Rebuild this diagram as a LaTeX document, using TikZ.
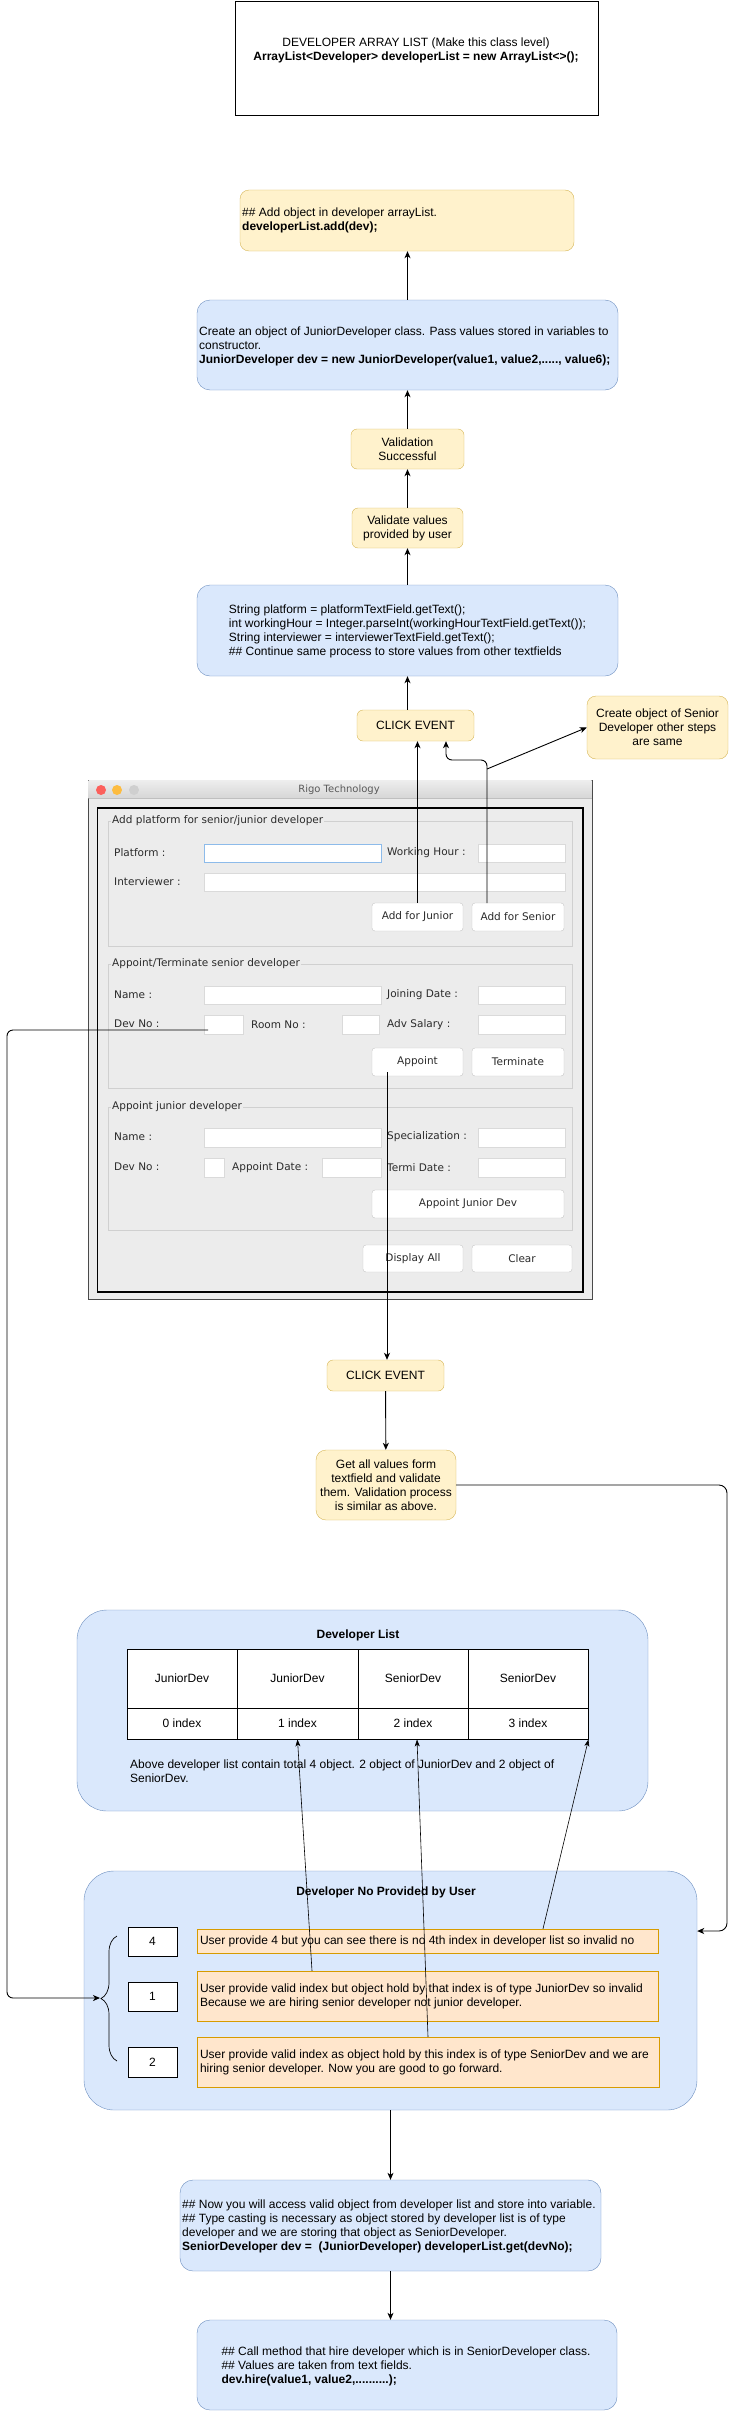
\documentclass[tikz,border=0pt]{standalone}
\usepackage{fontspec}
\setmainfont{Liberation Sans}
\newfontfamily\uifont{DejaVu Sans}
\usetikzlibrary{arrows.meta,decorations.pathreplacing}

\definecolor{ylwfill}{HTML}{FFF2CC}
\definecolor{ylwline}{HTML}{D6B656}
\definecolor{bluefill}{HTML}{DAE8FC}
\definecolor{blueline}{HTML}{6C8EBF}
\definecolor{orgfill}{HTML}{FFE6CC}
\definecolor{orgline}{HTML}{D79B00}
\definecolor{winbg}{HTML}{ECECEC}
\definecolor{winedge}{HTML}{4A4A4A}
\definecolor{panelline}{HTML}{D0D0D0}
\definecolor{fieldline}{HTML}{DADADA}
\definecolor{focusline}{HTML}{8DBBEA}
\definecolor{btnline}{HTML}{C6C6C6}
\definecolor{uitext}{HTML}{2B2B2B}
\definecolor{lightred}{HTML}{FC605C}
\definecolor{lightyellow}{HTML}{FDBC40}
\definecolor{lightgray}{HTML}{CFCFCF}

\tikzset{
  txt/.style={font=\fontsize{12}{14}\selectfont, inner sep=0},
  uitxt/.style={font=\uifont\fontsize{10.5}{12}\selectfont, text=uitext, inner sep=0},
  note/.style={txt, draw=ylwline, fill=ylwfill, rounded corners=6, align=center},
  codebox/.style={draw=blueline, fill=bluefill, rounded corners=13, inner sep=0},
  groupbox/.style={draw=blueline, fill=bluefill, rounded corners=30, inner sep=0},
  hint/.style={draw=orgline, fill=orgfill, inner sep=0},
  numbox/.style={txt, draw, fill=white, line width=0.8pt},
  cell/.style={txt, draw, line width=0.9pt, fill=white},
  field/.style={draw=fieldline, fill=white},
  btn/.style={uitxt, draw=btnline, fill=white, rounded corners=3},
  panel/.style={draw=panelline, fill=winbg},
  legend/.style={uitxt, fill=winbg, inner xsep=1pt},
  arr/.style={-{Stealth[length=7pt,width=6pt,inset=2pt]}, line width=0.9pt},
  thinarr/.style={-{Stealth[length=7pt,width=5pt,inset=2pt]}, line width=0.6pt}
}

\begin{document}
\begin{tikzpicture}[x=1pt, y=-1pt]
\useasboundingbox (0,0) rectangle (736,2411);

% Class level list
\node[txt, draw, line width=0.8pt, minimum width=363, minimum height=114] (cls) at (416.5,58) {};
\node[txt, align=center] (clstxt) at (416,50) {DEVELOPER ARRAY LIST (Make this class level)\\\textbf{ArrayList<Developer> developerList = new ArrayList<>();}};

% Junior flow
\node[note, minimum width=334, minimum height=61, rounded corners=9] (addobj) at (407,220.5) {};
\node[txt, anchor=west, align=left] (addtxt) at (242,220) {\#\# Add object in developer arrayList.\\\textbf{developerList.add(dev);}};
\node[codebox, minimum width=421, minimum height=90] (create) at (407.5,345) {};
\node[txt, anchor=west, align=left] (createtxt) at (199,346) {Create an object of JuniorDeveloper class. Pass values stored in variables to\\constructor.\\\textbf{JuniorDeveloper dev = new JuniorDeveloper(value1, value2,....., value6);}};
\node[note, minimum width=113, minimum height=40] (valok) at (407.5,449) {Validation\\Successful};
\node[note, minimum width=111, minimum height=40] (valuser) at (407.5,528) {Validate values\\provided by user};
\node[codebox, minimum width=421, minimum height=91] (fields) at (407.5,630.5) {};
\node[txt, align=left] (fieldstxt) at (407.5,631) {String platform = platformTextField.getText();\\int workingHour = Integer.parseInt(workingHourTextField.getText());\\String interviewer = interviewerTextField.getText();\\\#\# Continue same process to store values from other textfields};
\node[note, minimum width=117, minimum height=31] (click1) at (415.5,725.5) {CLICK EVENT};
\node[note, minimum width=141, minimum height=63, rounded corners=9] (seniornote) at (657.5,727.5) {Create object of Senior\\Developer other steps\\are same};

\draw[arr] (create.north) -- (create.north |- addobj.south);
\draw[arr] (valok) -- (create);
\draw[arr] (valuser) -- (valok);
\draw[arr] (fields) -- (valuser);
\draw[arr] (click1.north -| fields) -- (fields.south);

% Swing window
\draw[winedge, fill=winbg, line width=0.8pt] (88,780) rectangle (592,1299);
\shade[top color=white!93!black, bottom color=white!84!black] (88.5,780.5) rectangle (591.5,798);
\draw[black!25] (88.5,798) -- (591.5,798);
\fill[lightred] (101,790) circle (5pt);
\fill[lightyellow] (117,790) circle (5pt);
\fill[lightgray] (134,790) circle (5pt);
\node[uitxt, text=black!65, font=\uifont\fontsize{10}{12}\selectfont] (wintitle) at (339,790) {Rigo Technology};
\draw[line width=1.4pt] (97.5,808) rectangle (583,1292);

% First panel
\draw[panel] (108,821) rectangle (572,946);
\node[legend, anchor=west] (p1) at (111,821) {Add platform for senior/junior developer};
\node[uitxt, anchor=west] (lplat) at (114,853) {Platform :};
\draw[draw=focusline, fill=white] (204,844) rectangle (381,862);
\node[uitxt, anchor=west] (lhour) at (387,853) {Working Hour :};
\draw[field] (478,844) rectangle (565,862);
\node[uitxt, anchor=west] (linter) at (114,882) {Interviewer :};
\draw[field] (204,873) rectangle (565,891);
\node[btn, minimum width=91, minimum height=28] (jrbtn) at (417.5,917) {Add for Junior};
\node[btn, minimum width=92, minimum height=28] (srbtn) at (518,917) {Add for Senior};

% Second panel
\draw[panel] (108,964) rectangle (572,1088);
\node[legend, anchor=west] (p2) at (111,964) {Appoint/Terminate senior developer};
\node[uitxt, anchor=west] (lname) at (114,995) {Name :};
\draw[field] (204,986) rectangle (381,1004);
\node[uitxt, anchor=west] (ljoin) at (387,995) {Joining Date :};
\draw[field] (478,986) rectangle (565,1004);
\node[uitxt, anchor=west] (ldev) at (114,1024) {Dev No :};
\draw[field] (204,1015) rectangle (243,1034);
\node[uitxt, anchor=west] (lroom) at (251,1025) {Room No :};
\draw[field] (342,1015) rectangle (379,1034);
\node[uitxt, anchor=west] (lsal) at (387,1025) {Adv Salary :};
\draw[field] (478,1015) rectangle (565,1034);
\node[btn, minimum width=91, minimum height=28] (appbtn) at (417.5,1062) {Appoint};
\node[btn, minimum width=92, minimum height=28] (termbtn) at (518,1062) {Terminate};

% Third panel
\draw[panel] (108,1107) rectangle (572,1230);
\node[legend, anchor=west] (p3) at (111,1107) {Appoint junior developer};
\node[uitxt, anchor=west] (jname) at (114,1137) {Name :};
\draw[field] (204,1128) rectangle (381,1147);
\node[uitxt, anchor=west] (jspec) at (387,1137) {Specialization :};
\draw[field] (478,1128) rectangle (565,1147);
\node[uitxt, anchor=west] (jdev) at (114,1167) {Dev No :};
\draw[field] (204,1158) rectangle (224,1177);
\node[uitxt, anchor=west] (jdate) at (232,1168) {Appoint Date :};
\draw[field] (322,1158) rectangle (381,1177);
\node[uitxt, anchor=west] (jterm) at (387,1168) {Termi Date :};
\draw[field] (478,1158) rectangle (565,1177);
\node[btn, minimum width=192, minimum height=28] (jrappbtn) at (468,1204) {Appoint Junior Dev};
\node[btn, minimum width=100, minimum height=27] (dispbtn) at (413,1258.5) {Display All};
\node[btn, minimum width=100, minimum height=27] (clrbtn) at (522,1258.5) {Clear};

% Button events
\coordinate (srtop) at (487,903);
\coordinate (srbend) at (487,760);
\coordinate (srsplit) at (487,769);
\draw[arr] (jrbtn.north) -- (jrbtn.north |- click1.south);
\draw[arr, rounded corners=6] (srtop) -- (srbend) -| ([xshift=30.5pt]click1.south);
\draw[arr] (srsplit) -- (seniornote.west);

% Senior flow
\node[note, minimum width=117, minimum height=31] (click2) at (385.5,1375.5) {CLICK EVENT};
\node[note, minimum width=140, minimum height=70, rounded corners=10] (getall) at (386,1485) {Get all values form\\textfield and validate\\them. Validation process\\is similar as above.};
\coordinate (apptop) at (387,1072);
\draw[arr] (apptop) -- (apptop |- click2.north);
\draw[arr] (click2) -- (getall);

% Developer list
\node[groupbox, minimum width=571, minimum height=201] (devlist) at (362.5,1710.5) {};
\node[txt] (dltitle) at (358,1635) {\textbf{Developer List}};
\node[cell, minimum width=110, minimum height=59] (dv0) at (182,1678.5) {JuniorDev};
\node[cell, minimum width=121, minimum height=59] (dv1) at (297.5,1678.5) {JuniorDev};
\node[cell, minimum width=110, minimum height=59] (dv2) at (413,1678.5) {SeniorDev};
\node[cell, minimum width=120, minimum height=59] (dv3) at (528,1678.5) {SeniorDev};
\node[cell, minimum width=110, minimum height=31] (ix0) at (182,1723.5) {0 index};
\node[cell, minimum width=121, minimum height=31] (ix1) at (297.5,1723.5) {1 index};
\node[cell, minimum width=110, minimum height=31] (ix2) at (413,1723.5) {2 index};
\node[cell, minimum width=120, minimum height=31] (ix3) at (528,1723.5) {3 index};
\node[txt, anchor=west, align=left] (dlnote) at (130,1771) {Above developer list contain total 4 object. 2 object of JuniorDev and 2 object of\\SeniorDev.};

% Developer no given by user
\node[groupbox, minimum width=613, minimum height=239] (devin) at (390.5,1990.5) {};
\node[txt] (dntitle) at (386,1892) {\textbf{Developer No Provided by User}};
\node[numbox, minimum width=49, minimum height=29] (n4) at (152.5,1941.5) {4};
\node[numbox, minimum width=49, minimum height=29] (n1) at (152.5,1996.5) {1};
\node[numbox, minimum width=49, minimum height=30] (n2) at (152.5,2062) {2};
\node[hint, minimum width=461, minimum height=24] (o4) at (427.5,1941) {};
\node[txt, anchor=west] (o4txt) at ([xshift=3pt]o4.west) {User provide 4 but you can see there is no 4th index in developer list so invalid no};
\node[hint, minimum width=461, minimum height=50] (o1) at (427.5,1996) {};
\node[txt, anchor=west, align=left] (o1txt) at ([xshift=3pt]o1.west) {User provide valid index but object hold by that index is of type JuniorDev so invalid\\Because we are hiring senior developer not junior developer.};
\node[hint, minimum width=462, minimum height=50] (o2) at (428,2062) {};
\node[txt, anchor=west, align=left] (o2txt) at ([xshift=3pt]o2.west) {User provide valid index as object hold by this index is of type SeniorDev and we are\\hiring senior developer. Now you are good to go forward.};
\draw[decorate, decoration={brace, amplitude=16pt}, line width=0.7pt] (117,2061) -- (117,1936);

\draw[thinarr] ([xshift=-115.5pt]o1.north) -- (ix1.south);
\draw[thinarr] (o2.north) -- ([xshift=4pt]ix2.south);
\draw[thinarr] ([xshift=115.5pt]o4.north) -- (ix3.south east);

% Long connectors
\coordinate (devno) at (208,1030);
\coordinate (leftturn) at (7,1030);
\coordinate (bracetip) at (100,1998);
\draw[arr, rounded corners=6] (devno) -- (leftturn) |- (bracetip);
\coordinate (rightturn) at (727,1485);
\draw[arr, rounded corners=8] (getall.east) -- (rightturn) |- ([yshift=59.5pt]devin.east);

% Hire senior
\node[codebox, minimum width=421, minimum height=91] (access) at (390.5,2225.5) {};
\node[txt, anchor=west, align=left] (accesstxt) at (182,2226) {\#\# Now you will access valid object from developer list and store into variable.\\\#\# Type casting is necessary as object stored by developer list is of type\\developer and we are storing that object as SeniorDeveloper.\\\textbf{SeniorDeveloper dev = \ (JuniorDeveloper) developerList.get(devNo);}};
\node[codebox, minimum width=420, minimum height=90] (hire) at (407,2365) {};
\node[txt, align=left] (hiretxt) at (406,2366) {\#\# Call method that hire developer which is in SeniorDeveloper class.\\\#\# Values are taken from text fields.\\\textbf{dev.hire(value1, value2,..........);}};

\draw[arr] (access.north |- devin.south) -- (access.north);
\draw[arr] (access.south) -- (access.south |- hire.north);
\end{tikzpicture}
\end{document}
